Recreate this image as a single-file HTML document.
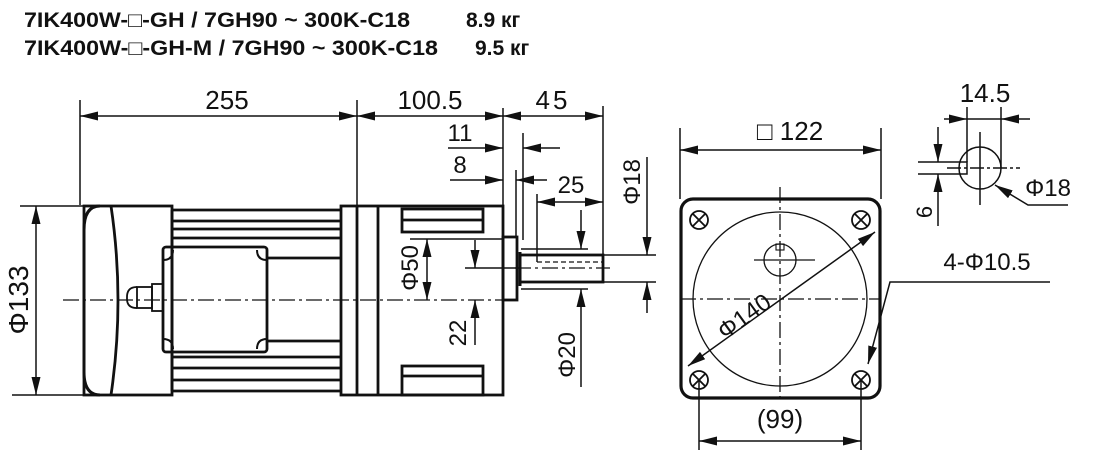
<!DOCTYPE html>
<html><head><meta charset="utf-8"><style>
html,body{margin:0;padding:0;background:#fff;}
svg{display:block;}
text{font-family:"Liberation Sans",Arial,sans-serif;fill:#111;}
</style></head><body>
<svg width="1100" height="459" viewBox="0 0 1100 459" xmlns="http://www.w3.org/2000/svg">
<defs>
<marker id="a" viewBox="0 0 18 9" refX="18" refY="4.5" markerWidth="18" markerHeight="9" markerUnits="userSpaceOnUse" orient="auto-start-reverse"><path d="M0,0 L18,4.5 L0,9 Z" fill="#111"/></marker>
</defs>
<!-- header -->
<text x="24" y="27" font-size="21" font-weight="bold" textLength="386" lengthAdjust="spacingAndGlyphs">7IK400W-□-GH / 7GH90 ~ 300K-C18</text>
<text x="466" y="27" font-size="21" font-weight="bold">8.9 кг</text>
<text x="24" y="55" font-size="21" font-weight="bold" textLength="414" lengthAdjust="spacingAndGlyphs">7IK400W-□-GH-M / 7GH90 ~ 300K-C18</text>
<text x="475" y="55" font-size="21" font-weight="bold">9.5 кг</text>

<g stroke="#111" fill="none" stroke-width="1.5">
<line x1="80" y1="100" x2="80" y2="205"/>
<line x1="357" y1="100" x2="357" y2="205"/>
<line x1="503" y1="108" x2="503" y2="300"/>
<line x1="603" y1="106" x2="603" y2="255"/>
<line x1="80" y1="116" x2="357" y2="116" marker-start="url(#a)" marker-end="url(#a)"/>
<line x1="357" y1="116" x2="503" y2="116" marker-start="url(#a)" marker-end="url(#a)"/>
<line x1="503" y1="116" x2="603" y2="116" marker-start="url(#a)" marker-end="url(#a)"/>
<line x1="523" y1="133" x2="523" y2="240"/>
<line x1="448" y1="148" x2="503" y2="148" marker-end="url(#a)"/>
<line x1="560" y1="148" x2="523" y2="148" marker-end="url(#a)"/>
<line x1="516" y1="170" x2="516" y2="237"/>
<line x1="450" y1="180" x2="503" y2="180" marker-end="url(#a)"/>
<line x1="547" y1="180" x2="516" y2="180" marker-end="url(#a)"/>
<line x1="537" y1="194" x2="537" y2="262"/>
<line x1="537" y1="202" x2="603" y2="202" marker-start="url(#a)" marker-end="url(#a)"/>
<line x1="603" y1="255" x2="656" y2="255"/>
<line x1="603" y1="282" x2="656" y2="282"/>
<line x1="647" y1="157" x2="647" y2="255" marker-end="url(#a)"/>
<line x1="647" y1="313" x2="647" y2="282" marker-end="url(#a)"/>
<line x1="521" y1="249" x2="588" y2="249"/>
<line x1="521" y1="289" x2="588" y2="289"/>
<line x1="581" y1="210" x2="581" y2="249" marker-end="url(#a)"/>
<line x1="581" y1="387" x2="581" y2="289" marker-end="url(#a)"/>
<line x1="465" y1="268" x2="520" y2="268"/>
<line x1="475" y1="240" x2="475" y2="268" marker-end="url(#a)"/>
<line x1="475" y1="345" x2="475" y2="300" marker-end="url(#a)"/>
<line x1="410" y1="239" x2="503" y2="239"/>
<line x1="427" y1="239" x2="427" y2="300" marker-start="url(#a)" marker-end="url(#a)"/>
<line x1="20" y1="206" x2="168" y2="206"/>
<line x1="12" y1="395" x2="112" y2="395"/>
<line x1="36" y1="206" x2="36" y2="395" marker-start="url(#a)" marker-end="url(#a)"/>
</g>

<g stroke="#111" fill="none" stroke-width="2.8">
<rect x="84" y="206" width="88" height="189"/>
<path d="M100,206 Q84,206 84,230 L84,372 Q84,395 100,395" stroke-width="3"/>
<path d="M111,206 Q125,300 111,395"/>
<line x1="172" y1="210" x2="340" y2="210"/>
<line x1="172" y1="221" x2="340" y2="221"/>
<line x1="172" y1="229" x2="340" y2="229"/>
<line x1="172" y1="238" x2="340" y2="238"/>
<line x1="267" y1="258" x2="340" y2="258"/>
<line x1="267" y1="341" x2="340" y2="341"/>
<line x1="172" y1="357" x2="340" y2="357"/>
<line x1="172" y1="368" x2="340" y2="368"/>
<line x1="172" y1="380" x2="340" y2="380"/>
<line x1="172" y1="391" x2="340" y2="391"/>
<line x1="172" y1="210" x2="172" y2="391"/>
<rect x="163" y="247" width="104" height="105" rx="3"/>
<path d="M163,260 Q173,260 173,250 M257,250 Q257,260 267,260 M163,339 Q173,339 173,349 M257,349 Q257,339 267,339" stroke-width="2"/>
<rect x="152" y="284" width="11" height="27" stroke-width="1.8"/>
<rect x="137" y="287" width="15" height="21" stroke-width="1.8"/>
<path d="M137,287 Q127,287 127,297 L127,299 Q127,308 137,308" stroke-width="1.8"/>
<rect x="341" y="206" width="162" height="189"/>
<line x1="357" y1="206" x2="357" y2="395"/>
<line x1="378" y1="206" x2="378" y2="395"/>
<rect x="402" y="209" width="81" height="23"/>
<line x1="402" y1="220" x2="483" y2="220"/>
<rect x="402" y="366" width="81" height="29"/>
<line x1="402" y1="376" x2="483" y2="376"/>
<rect x="503" y="237" width="14" height="63"/>
<rect x="520" y="255" width="83" height="27"/>
<line x1="520" y1="252" x2="520" y2="286" stroke-width="3"/>
</g>
<g stroke="#111" fill="none" stroke-width="1.3">
<line x1="537" y1="262" x2="603" y2="262" stroke-dasharray="5,3"/>
<line x1="63" y1="300" x2="512" y2="300" stroke-dasharray="16,4,3,4"/>
<line x1="515" y1="268" x2="610" y2="268" stroke-dasharray="16,4,3,4"/>
</g>

<g stroke="#111" fill="none">
<rect x="681" y="199" width="199" height="199" rx="12" stroke-width="3.2"/>
<circle cx="780" cy="299" r="87" stroke-width="1.3"/>
<circle cx="780" cy="260" r="16" stroke-width="1.3"/>
<rect x="776" y="244" width="8" height="6" stroke-width="1.1"/>
<g stroke-width="1.3" stroke-dasharray="16,4,3,4">
<line x1="680" y1="299" x2="881" y2="299"/>
<line x1="780" y1="187" x2="780" y2="398"/>
</g>
<line x1="754" y1="260" x2="815" y2="260" stroke-width="1.3"/>
<g stroke-width="1.8">
<circle cx="699" cy="220" r="9"/><path d="M693,214 L705,226 M705,214 L693,226"/>
<circle cx="861" cy="220" r="9"/><path d="M855,214 L867,226 M867,214 L855,226"/>
<circle cx="699" cy="380" r="9"/><path d="M693,374 L705,386 M705,374 L693,386"/>
<circle cx="861" cy="380" r="9"/><path d="M855,374 L867,386 M867,374 L855,386"/>
</g>
<g stroke-width="1.5">
<line x1="688" y1="366" x2="875" y2="232" marker-start="url(#a)" marker-end="url(#a)"/>
<line x1="680" y1="128" x2="680" y2="199"/>
<line x1="881" y1="128" x2="881" y2="199"/>
<line x1="680" y1="150" x2="881" y2="150" marker-start="url(#a)" marker-end="url(#a)"/>
<line x1="699" y1="380" x2="699" y2="450"/>
<line x1="861" y1="380" x2="861" y2="450"/>
<line x1="699" y1="441" x2="861" y2="441" marker-start="url(#a)" marker-end="url(#a)"/>
<polyline points="1050,282 890,282 868,364" marker-end="url(#a)"/>
<circle cx="980" cy="168" r="21"/>
<line x1="980" y1="132" x2="980" y2="205"/>
<line x1="947" y1="168" x2="1020" y2="168" stroke-dasharray="14,3,3,3"/>
<polyline points="918,162 967,162 967,174 918,174"/>
<line x1="967" y1="107" x2="967" y2="162"/>
<line x1="1001" y1="107" x2="1001" y2="168"/>
<line x1="944" y1="119" x2="967" y2="119" marker-end="url(#a)"/>
<line x1="1030" y1="119" x2="1001" y2="119" marker-end="url(#a)"/>
<line x1="967" y1="119" x2="1001" y2="119"/>
<line x1="938" y1="127" x2="938" y2="162" marker-end="url(#a)"/>
<line x1="938" y1="226" x2="938" y2="174" marker-end="url(#a)"/>
<polyline points="1068,205 1028,205 995,185" marker-end="url(#a)"/>
</g>
</g>

<g font-size="26">
<text x="227" y="109" text-anchor="middle">255</text>
<text x="430" y="109" text-anchor="middle">100.5</text>
<text x="553" y="109" text-anchor="middle" letter-spacing="3">45</text>
<text x="460" y="141" text-anchor="middle" font-size="24">11</text>
<text x="460" y="173" text-anchor="middle" font-size="24">8</text>
<text x="571" y="193" text-anchor="middle" font-size="24">25</text>
<text transform="translate(640,182) rotate(-90)" text-anchor="middle" font-size="24">Φ18</text>
<text transform="translate(575,355) rotate(-90)" text-anchor="middle" font-size="24">Φ20</text>
<text transform="translate(466,333) rotate(-90)" text-anchor="middle" font-size="24">22</text>
<text transform="translate(418,268) rotate(-90)" text-anchor="middle" font-size="24">Φ50</text>
<text transform="translate(28,300) rotate(-90)" text-anchor="middle" font-size="28">Φ133</text>
<text transform="translate(749,323) rotate(-36)" text-anchor="middle" font-size="24">Φ140</text>
<text x="790" y="140" text-anchor="middle">□ 122</text>
<text x="780" y="428" text-anchor="middle">(99)</text>
<text x="985" y="102" text-anchor="middle">14.5</text>
<text transform="translate(932,212) rotate(-90)" text-anchor="middle" font-size="22">6</text>
<text x="1048" y="196" text-anchor="middle" font-size="24">Φ18</text>
<text x="987" y="270" text-anchor="middle" font-size="24">4-Φ10.5</text>
</g>
</svg>
</body></html>
